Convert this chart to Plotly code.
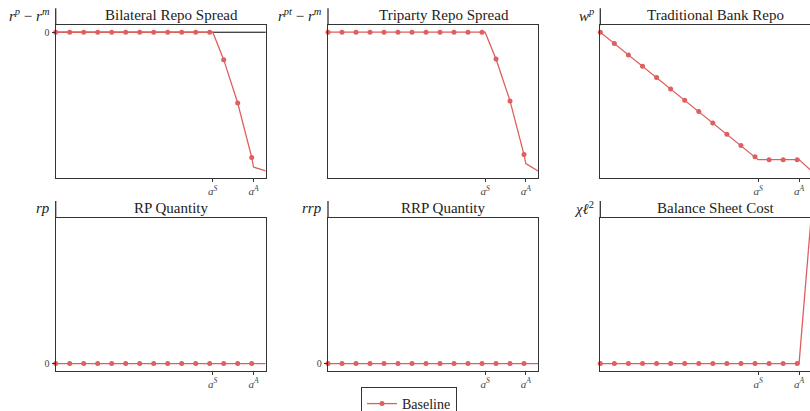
import plotly.graph_objects as go

# ---------------- data ----------------
a_S = 11.22
a_A = 14.13
x_vals = [0, 1, 2, 3, 4, 5, 6, 7, 8, 9, 10, 11, a_S, 12, 13, 14, a_A, 15]

bilateral_spread = [0, 0, 0, 0, 0, 0, 0, 0, 0, 0, 0, 0, 0, -0.188, -0.485, -0.858, -0.924, -0.950]
triparty_spread = [0, 0, 0, 0, 0, 0, 0, 0, 0, 0, 0, 0, 0, -0.184, -0.470, -0.837, -0.899, -0.949]
bank_repo = [1.0, 0.918, 0.836, 0.755, 0.673, 0.591, 0.509, 0.428, 0.346, 0.264, 0.183, 0.101,
             0.081, 0.081, 0.081, 0.081, 0.081, 0.0]
rp_quantity = [0, 0, 0, 0, 0, 0, 0, 0, 0, 0, 0, 0, 0, 0, 0, 0, 0, 0]
rrp_quantity = [0, 0, 0, 0, 0, 0, 0, 0, 0, 0, 0, 0, 0, 0, 0, 0, 0, 0]
balance_sheet_cost = [0, 0, 0, 0, 0, 0, 0, 0, 0, 0, 0, 0, 0, 0, 0, 0, 0, 1.07]

titles = ["Bilateral Repo Spread", "Triparty Repo Spread", "Traditional Bank Repo",
          "RP Quantity", "RRP Quantity", "Balance Sheet Cost"]
ylabels = ["<i>r<sup>p</sup></i> − <i>r<sup>m</sup></i>",
           "<i>r<sup>pt</sup></i> − <i>r<sup>m</sup></i>",
           "<i>w<sup>p</sup></i>",
           "<i>rp</i>",
           "<i>rrp</i>",
           "<i>χℓ</i><sup>2</sup>"]
xtick_vals = [a_S, a_A]
xtick_text = ["<i>a<sup>S</sup></i>", "<i>a<sup>A</sup></i>"]
series_name = "Baseline"

series = [bilateral_spread, triparty_spread, bank_repo, rp_quantity, rrp_quantity, balance_sheet_cost]
show_zero_tick = [True, False, False, True, True, False]
y_ranges = [[-0.9975, 0.0475], [-0.996, 0.047], [-0.05, 1.05],
            [-0.05, 1.05], [-0.05, 1.05], [-0.05, 1.05]]

# ---------------- layout geometry ----------------
W, H = 810, 411
col_left = [55.7, 328.0, 600.3]
col_width = 210.0
row_top = [25.3, 218.0]
row_height = 152.5
red = "#DF5F5F"
spine = "#333333"
serif = "Liberation Serif"

fig = go.Figure()
layout = dict(
    width=W, height=H, margin=dict(l=0, r=0, t=0, b=0, autoexpand=False),
    paper_bgcolor="white", plot_bgcolor="white",
    font=dict(family=serif, color="#222", size=13),
    showlegend=True,
)
annotations = []
shapes = []

for i in range(6):
    r, c = divmod(i, 3)
    ax = "" if i == 0 else str(i + 1)
    x0 = col_left[c] / W
    x1 = min((col_left[c] + col_width) / W, 1.0)
    ytop = 1 - row_top[r] / H
    ybot = 1 - (row_top[r] + row_height) / H
    xr = [0, 15] if c < 2 else [0, 15 * (W - col_left[c]) / (col_width + 1.0)]
    layout["xaxis" + ax] = dict(
        domain=[x0, x1], range=xr, anchor="y" + ax, automargin=False,
        showgrid=False, zeroline=False, showline=True, mirror=True,
        linecolor=spine, linewidth=1.3,
        tickmode="array", tickvals=xtick_vals, ticktext=xtick_text,
        ticks="outside", ticklen=3, tickwidth=1, tickcolor=spine,
        tickfont=dict(family=serif, size=11, color="#444"),
    )
    layout["yaxis" + ax] = dict(
        domain=[ybot, ytop], range=y_ranges[i], anchor="x" + ax, automargin=False,
        showgrid=False, zeroline=False, showline=True, mirror=True,
        linecolor=spine, linewidth=1.3,
        tickmode="array",
        tickvals=[0] if show_zero_tick[i] else [],
        ticktext=["0"] if show_zero_tick[i] else [],
        ticks="outside" if show_zero_tick[i] else "", ticklen=3, tickwidth=1, tickcolor=spine,
        tickfont=dict(family=serif, size=10, color="#444"),
    )
    ys = series[i]
    fig.add_trace(go.Scatter(
        x=x_vals, y=ys, mode="lines", line=dict(color=red, width=1.3),
        xaxis="x" + ax, yaxis="y" + ax, showlegend=False, hoverinfo="skip",
    ))
    mx = [xv for xv in x_vals if float(xv).is_integer() and xv < 15]
    my = [yv for xv, yv in zip(x_vals, ys) if float(xv).is_integer() and xv < 15]
    fig.add_trace(go.Scatter(
        x=mx, y=my, mode="markers", marker=dict(color=red, size=5),
        xaxis="x" + ax, yaxis="y" + ax, showlegend=False, cliponaxis=False,
    ))
    # title
    annotations.append(dict(
        text=titles[i], xref="paper", yref="paper",
        x=(col_left[c] + 115.5) / W, y=1 - (row_top[r] - 10) / H,
        xanchor="center", yanchor="middle", showarrow=False,
        font=dict(family=serif, size=15, color="#222"),
    ))
    # y label
    annotations.append(dict(
        text=ylabels[i], xref="paper", yref="paper",
        x=x0, xshift=-4, y=1 - (row_top[r] - 10) / H,
        xanchor="right", yanchor="middle", showarrow=False,
        font=dict(family=serif, size=15, color="#222"),
    ))
    # extended left spine
    shapes.append(dict(
        type="line", xref="paper", yref="paper",
        x0=x0, x1=x0, y0=ytop, y1=ytop + 17 / H,
        line=dict(color=spine, width=1.3),
    ))

# zero reference line in bilateral panel
shapes.append(dict(type="line", xref="x domain", yref="y", x0=0, x1=1, y0=0, y1=0,
                   line=dict(color="black", width=1), layer="below"))

# legend entry
fig.add_trace(go.Scatter(
    x=[None], y=[None], mode="lines+markers", name=series_name,
    line=dict(color=red, width=1.3), marker=dict(color=red, size=5),
))

layout["legend"] = dict(
    x=409 / W, y=1 - 387.0 / H, xanchor="center", yanchor="top",
    bordercolor=spine, borderwidth=1, bgcolor="white",
    font=dict(family=serif, size=14, color="#222"), itemwidth=30,
)
layout["annotations"] = annotations
layout["shapes"] = shapes
fig.update_layout(**layout)
fig.write_html(
    "out.html",
    config={"displayModeBar": False},
    post_script="document.body.style.margin='0';document.body.style.padding='0';"
                "document.body.style.overflow='hidden';",
)
